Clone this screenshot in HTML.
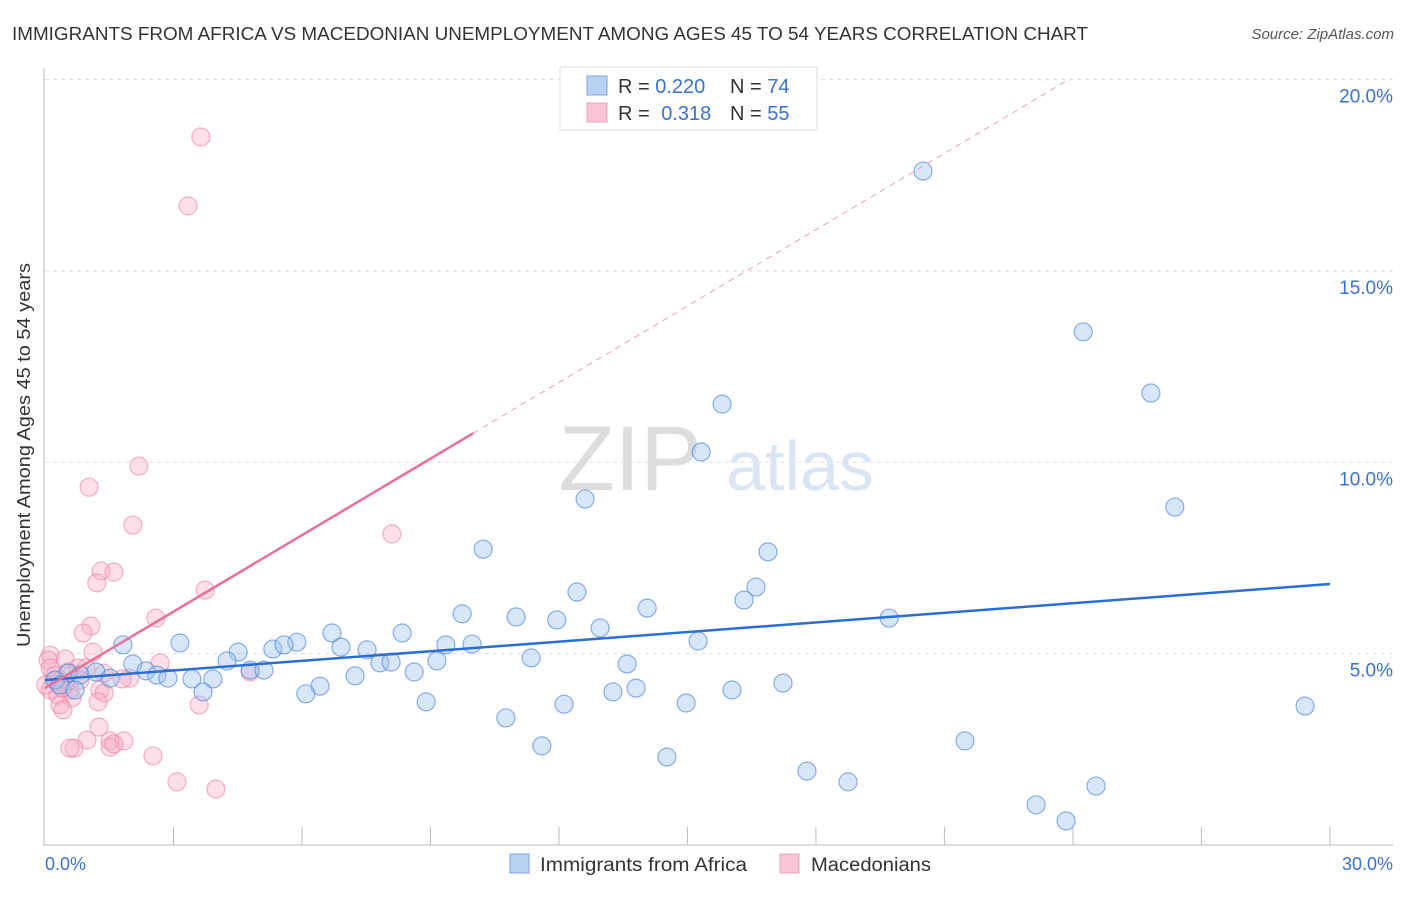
<!DOCTYPE html>
<html><head><meta charset="utf-8"><style>
body{margin:0;background:#fff;font-family:"Liberation Sans",sans-serif;}
svg text{font-family:"Liberation Sans",sans-serif;}
</style></head><body>
<svg width="1406" height="892" xmlns="http://www.w3.org/2000/svg">
<text x="12" y="40" font-size="18" fill="#333" textLength="1076" lengthAdjust="spacingAndGlyphs">IMMIGRANTS FROM AFRICA VS MACEDONIAN UNEMPLOYMENT AMONG AGES 45 TO 54 YEARS CORRELATION CHART</text>
<text x="1394" y="39" font-size="15" fill="#555" font-style="italic" text-anchor="end">Source: ZipAtlas.com</text>
<g id="grid"></g>
<text x="630" y="490" font-size="92" fill="#ddd" text-anchor="middle" font-family="Liberation Serif">ZIP</text>
<text x="800" y="490" font-size="70" fill="#dbe6f5" text-anchor="middle">atlas</text>
<line x1="44" y1="68" x2="44" y2="846" stroke="#bbb"/>
<line x1="44" y1="845" x2="1393" y2="845" stroke="#bbb"/>
<g id="ticks"></g>
<g id="pts"></g>
<g id="lines"></g>
<text x="30" y="455" font-size="18" fill="#333" text-anchor="middle" transform="rotate(-90 30 455)" textLength="384" lengthAdjust="spacingAndGlyphs">Unemployment Among Ages 45 to 54 years</text>
<text x="45" y="870" font-size="18" fill="#3a72d0">0.0%</text>
<text x="1393" y="870" font-size="18" fill="#3a72d0" text-anchor="end">30.0%</text>
<g>
<rect x="560" y="67" width="257" height="63" fill="#fff" stroke="#ddd"/>
<rect x="587" y="76" width="20" height="19" fill="#b8d2f4" stroke="#7aa6e2"/>
<rect x="587" y="103" width="20" height="19" fill="#f9c6d5" stroke="#eea0b8"/>
<text x="618" y="93" font-size="20" fill="#333">R = <tspan fill="#3a72d0">0.220</tspan></text>
<text x="730" y="93" font-size="20" fill="#333">N = <tspan fill="#3a72d0">74</tspan></text>
<text x="618" y="120" font-size="20" fill="#333">R = <tspan fill="#3a72d0" dx="6">0.318</tspan></text>
<text x="730" y="120" font-size="20" fill="#333">N = <tspan fill="#3a72d0">55</tspan></text>
</g>
<g>
<rect x="510" y="854" width="19" height="19" fill="#b8d2f4" stroke="#7aa6e2"/>
<text x="540" y="871" font-size="19" fill="#333" textLength="207" lengthAdjust="spacingAndGlyphs">Immigrants from Africa</text>
<rect x="780" y="854" width="19" height="19" fill="#f9c6d5" stroke="#eea0b8"/>
<text x="811" y="871" font-size="19" fill="#333" textLength="120" lengthAdjust="spacingAndGlyphs">Macedonians</text>
</g>
</svg>
<script>
const yTicks=[5,10,15,20];
const yTickLabels=["5.0%","10.0%","15.0%","20.0%"];
const xTickVals=[3,6,9,12,15,18,21,24,27,30];
const blueX=[20.50,24.24,25.82,15.81,15.32,12.61,26.38,10.23,16.88,16.60,16.32,12.42,9.74,11.00,14.06,11.95,19.71,12.96,6.70,8.34,1.82,3.15,5.88,15.25,4.51,5.32,5.58,6.91,7.52,9.36,9.97,2.05,2.36,2.61,4.25,7.82,8.08,9.15,11.35,13.59,4.79,5.11,7.24,8.62,1.19,0.54,0.82,1.52,2.87,3.43,3.92,17.23,6.42,6.09,3.69,13.26,13.80,16.04,8.90,12.12,14.97,29.42,10.76,21.48,11.60,14.52,17.79,18.75,23.14,24.54,23.84,0.23,0.35,0.70];
const blueY=[17.61,13.41,11.81,11.52,10.27,9.04,8.83,7.73,7.66,6.74,6.40,6.61,6.04,5.96,6.19,5.88,5.93,5.67,5.54,5.54,5.23,5.28,5.30,5.33,5.04,5.12,5.23,5.17,5.10,5.23,5.25,4.73,4.55,4.44,4.81,4.76,4.78,4.81,4.89,4.73,4.57,4.57,4.42,4.52,4.52,4.49,4.44,4.36,4.36,4.34,4.34,4.23,4.15,3.95,4.00,4.00,4.10,4.05,3.74,3.68,3.71,3.63,3.32,2.72,2.59,2.30,1.93,1.65,1.05,1.54,0.63,4.31,4.18,4.05];
const pinkX=[3.64,3.34,2.19,1.03,2.05,8.10,1.31,1.61,1.21,3.74,2.59,1.07,0.89,1.12,0.12,0.07,0.47,2.69,0.77,0.96,1.38,1.98,1.80,4.79,0.12,0.23,0.35,0.47,0.58,0.12,0.30,0.63,1.28,1.38,0.35,0.42,1.24,3.60,1.26,0.98,1.52,1.84,0.68,0.58,1.52,1.61,2.52,3.08,3.99,0.26,0.40,0.02,0.82,0.54];
const pinkY=[18.50,16.70,9.90,9.35,8.36,8.13,7.16,7.13,6.85,6.66,5.93,5.72,5.54,5.04,4.96,4.83,4.86,4.76,4.63,4.63,4.49,4.36,4.34,4.52,4.63,4.44,4.31,4.18,4.05,4.05,3.92,3.84,4.05,3.97,3.66,3.53,3.74,3.66,3.08,2.74,2.72,2.72,2.53,2.53,2.56,2.64,2.33,1.65,1.46,4.31,4.10,4.18,4.31,4.52];
const blueTrend=[[0,4.31],[30,6.82]];
const pinkTrend=[[0,4.10],[10.0,10.76]];
const pinkTrendExt=[[10.0,10.76],[23.9,20]];
const X=v=>45+v*42.83, Y=v=>845-v*38.27;
const NS="http://www.w3.org/2000/svg";
function mk(tag,attrs,parent){const e=document.createElementNS(NS,tag);for(const k in attrs)e.setAttribute(k,attrs[k]);document.getElementById(parent).appendChild(e);return e;}
yTicks.forEach((t,i)=>{
 const l=mk('line',{x1:45,x2:1393,y1:Y(t),y2:Y(t),stroke:'#ddd','stroke-dasharray':'4,4'},'grid');
 
 
 const tx=mk('text',{x:1393,y:Y(t)+23,'font-size':19,fill:'#3a72d0','text-anchor':'end'},'grid');
 tx.textContent=yTickLabels[i];
 
 
});
xTickVals.forEach(t=>{
 const l=mk('line',{x1:X(t),x2:X(t),y1:827,y2:845,stroke:'#bbb'},'ticks');
 
 
});
pinkX.forEach((x,i)=>{
 const c=mk('circle',{cx:X(x),cy:Y(pinkY[i]),r:9,fill:'rgba(246,170,196,0.38)',stroke:'rgba(234,130,165,0.6)','stroke-width':1.2},'pts');
 
 
});
blueX.forEach((x,i)=>{
 const c=mk('circle',{cx:X(x),cy:Y(blueY[i]),r:9,fill:'rgba(160,196,240,0.42)',stroke:'rgba(80,135,215,0.65)','stroke-width':1.2},'pts');
 
 
});
function tl(p,col,w,dash,name){
 const l=mk('line',{x1:X(p[0][0]),y1:Y(p[0][1]),x2:X(p[1][0]),y2:Y(p[1][1]),stroke:col,'stroke-width':w},'lines');
 if(dash)l.setAttribute('stroke-dasharray',dash);
 
 
}
tl(blueTrend,'#2a6fd6',2.5,null,'trend-line-africa');
tl(pinkTrend,'#e8709a',2.5,null,'trend-line-macedonians');
tl(pinkTrendExt,'#e8a0b8',1,'6,5','trend-line-macedonians-extended');
</script>
</body></html>
